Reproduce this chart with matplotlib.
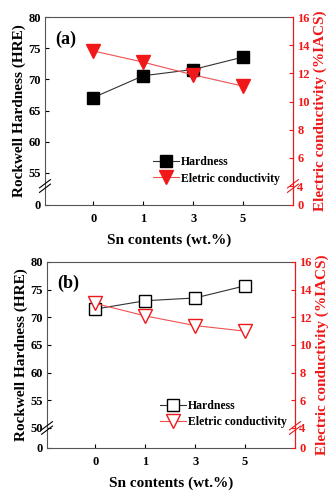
import numpy as np
import matplotlib
matplotlib.use("Agg")
import matplotlib.pyplot as plt

plt.rcParams['font.family'] = ['Liberation Serif', 'DejaVu Serif']
plt.rcParams['font.weight'] = 'bold'

# data
sn_labels = ['0', '1', '3', '5']
hard_a = [67.1, 70.6, 71.6, 73.6]
cond_a = [13.6, 12.8, 11.9, 11.1]
hard_b = [71.5, 73.0, 73.5, 75.7]
cond_b = [13.0, 12.1, 11.4, 11.0]

RED = '#f01818'
x = np.arange(len(sn_labels))


def broken_scale(b, span):
    # linear above b, the range 0..b squeezed into `span` units below it
    k = span / b

    def fwd(y):
        y = np.asarray(y, dtype=float)
        return np.where(y >= b, y, b - (b - y) * k)

    def inv(u):
        u = np.asarray(u, dtype=float)
        return np.where(u >= b, u, b - (b - u) / k)
    return fwd, inv


def break_marks(ax, yb, xpos, color):
    for dy in (-0.012, 0.012):
        ax.plot([xpos - 0.022, xpos + 0.022], [yb + dy - 0.022, yb + dy + 0.022],
                transform=ax.transAxes, color=color, lw=0.8, clip_on=False, zorder=5)


def panel(rect, hard, cond, tag, lb, lspan, lticks, rspan, filled, leg_anchor):
    ax = fig.add_axes(rect)
    ax2 = ax.twinx()

    ax.set_yscale('function', functions=broken_scale(lb, lspan))
    ax2.set_yscale('function', functions=broken_scale(4, rspan))
    ax.set_ylim(0, 80)
    ax2.set_ylim(0, 16)
    ax.set_xlim(-0.97, 4.0)

    if filled:
        h1, = ax.plot(x, hard, '-s', color='#333333', lw=0.8, ms=8.5,
                      mfc='black', mec='black', label='Hardness')
        h2, = ax2.plot(x, cond, '-v', color='#f05050', lw=0.8, ms=9.5,
                       mfc=RED, mec=RED, label='Eletric conductivity')
    else:
        h1, = ax.plot(x, hard, '-s', color='#333333', lw=0.8, ms=8.5,
                      mfc='white', mec='black', mew=1.0, label='Hardness')
        h2, = ax2.plot(x, cond, '-v', color='#f05050', lw=0.8, ms=9.5,
                       mfc='white', mec=RED, mew=1.0, label='Eletric conductivity')

    ax.set_yticks(lticks)
    ax.set_yticklabels([str(t) for t in lticks])
    rticks = [0, 4, 6, 8, 10, 12, 14, 16]
    ax2.set_yticks(rticks)
    ax2.set_yticklabels([str(t) for t in rticks])
    ax.set_xticks(x)
    ax.set_xticklabels(sn_labels)

    ax.tick_params(axis='y', direction='in', length=3, labelsize=9, pad=3)
    ax.tick_params(axis='x', direction='in', length=3, labelsize=9, pad=6)
    ax2.tick_params(axis='y', direction='in', length=3, labelsize=9, pad=3,
                    colors=RED)
    ax.minorticks_off()
    ax2.minorticks_off()

    for s in ('left', 'bottom', 'top'):
        ax.spines[s].set_color('#555555')
    ax2.spines['right'].set_color(RED)
    for s in ('left', 'bottom', 'top'):
        ax2.spines[s].set_visible(False)

    ax.set_ylabel('Rockwell Hardness (HRE)', fontsize=11, fontweight='bold', labelpad=2)
    ax2.set_ylabel('Electric conductivity (%IACS)', fontsize=11, fontweight='bold',
                   color=RED, labelpad=3)
    ax.set_xlabel('Sn contents (wt.%)', fontsize=11, fontweight='bold', labelpad=6)

    ax.text(0.04, 0.93, tag, transform=ax.transAxes, fontsize=13,
            fontweight='bold', va='top')

    yb = ax.transAxes.inverted().transform(ax.transData.transform((0, lb)))[1]
    break_marks(ax, yb, 0.0, 'black')
    break_marks(ax, yb, 1.0, RED)

    ax.legend([h1, h2], ['Hardness', 'Eletric conductivity'], loc='upper left',
              bbox_to_anchor=leg_anchor, frameon=False, fontsize=8.5,
              handlelength=2.2, handletextpad=0.2, borderpad=0, labelspacing=0.35)
    return ax


fig = plt.figure(figsize=(3.32, 4.91), dpi=100)

panel([0.1355, 0.5825, 0.747, 0.3825], hard_a, cond_a, '(a)',
      52.9, 3.05, [0, 55, 60, 65, 70, 75, 80], 1.35, True, (0.41, 0.29))
panel([0.1416, 0.0876, 0.747, 0.3788], hard_b, cond_b, '(b)',
      50.0, 3.62, [0, 50, 55, 60, 65, 70, 75, 80], 1.45, False, (0.43, 0.29))

fig.savefig('out.png', dpi=100)
